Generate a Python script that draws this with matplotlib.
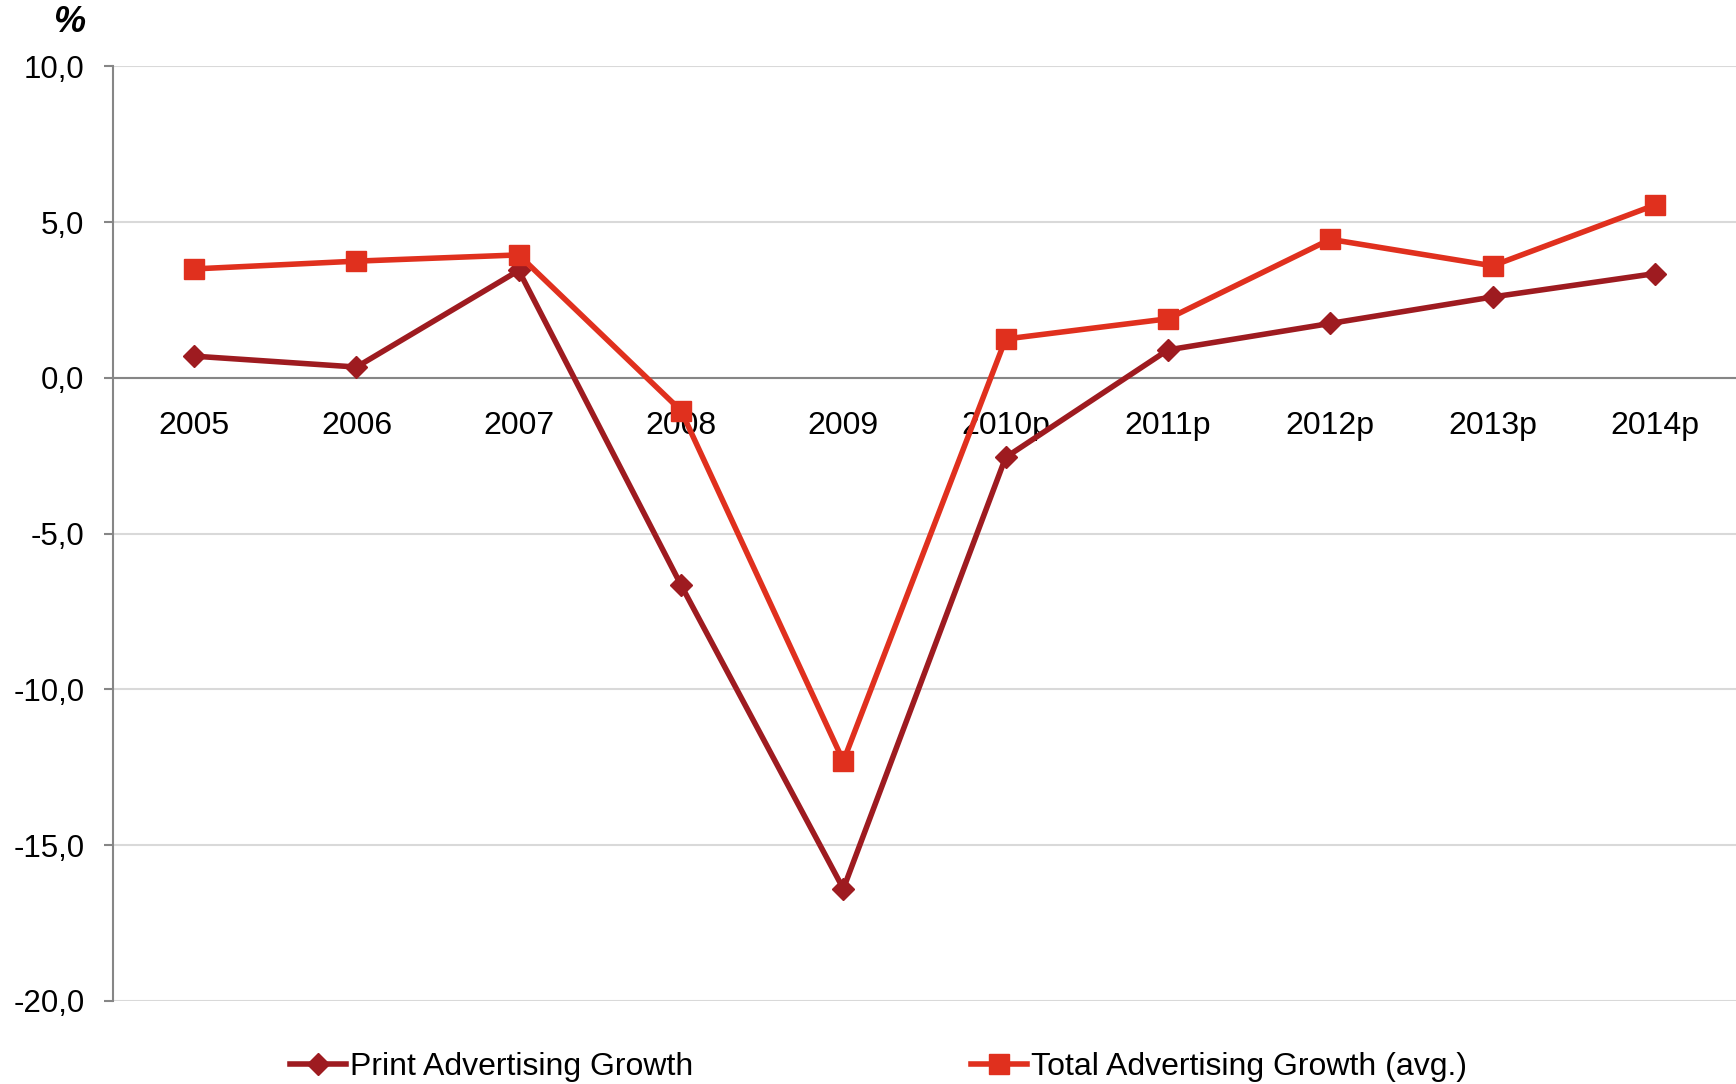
import matplotlib.pyplot as plt
from matplotlib.ticker import FuncFormatter

plt.rcParams['font.family'] = ['Liberation Sans', 'DejaVu Sans']

anos = ['2005', '2006', '2007', '2008', '2009',
        '2010p', '2011p', '2012p', '2013p', '2014p']
impresso = [0.7, 0.35, 3.45, -6.65, -16.4, -2.55, 0.9, 1.75, 2.6, 3.35]
total = [3.5, 3.75, 3.95, -1.05, -12.3, 1.25, 1.9, 4.45, 3.6, 5.55]

cor_imp = '#9e1b20'
cor_tot = '#e0301e'

fig = plt.figure(figsize=(17.36, 10.84), dpi=100)
ax = fig.add_axes([113/1736, 0.0766, 1 - 113/1736, 0.9387 - 0.0766])

x = range(len(anos))
ax.plot(x, impresso, color=cor_imp, lw=4, marker='D', ms=11.5,
        label='Print Advertising Growth', zorder=3)
ax.plot(x, total, color=cor_tot, lw=4, marker='s', ms=15,
        label='Total Advertising Growth (avg.)', zorder=3)

ax.set_xlim(-0.5, 9.5)
ax.set_ylim(-20, 10)
ax.set_yticks([10, 5, 0, -5, -10, -15, -20])
ax.yaxis.set_major_formatter(FuncFormatter(lambda v, p: ('%.1f' % v).replace('.', ',')))
ax.grid(axis='y', color='#d9d9d9', lw=1.5)
ax.set_axisbelow(True)

for s in ['top', 'right']:
    ax.spines[s].set_visible(False)
ax.spines['left'].set_color('#868686')
ax.spines['left'].set_linewidth(1.5)
ax.spines['bottom'].set_position(('data', 0))
ax.spines['bottom'].set_color('#868686')
ax.spines['bottom'].set_linewidth(1.5)
ax.spines['bottom'].set_zorder(2)

ax.set_xticks(list(x))
ax.set_xticklabels(anos)
ax.tick_params(axis='x', length=0, pad=24, labelsize=23)
ax.tick_params(axis='y', length=6.5, width=1.5, color='#868686', pad=14, labelsize=22.5)

fig.text(62/1568, 1 - 20/979, '%', ha='center', va='center',
         fontsize=26, fontweight='bold', fontstyle='italic')

fig.legend(loc='center left', bbox_to_anchor=(290/1736, 1 - 1067/1084), ncol=2,
           frameon=False, fontsize=23, handlelength=1.75, handletextpad=0.12,
           columnspacing=8.7, borderpad=0, borderaxespad=0)

fig.savefig('out.png', dpi=100)
